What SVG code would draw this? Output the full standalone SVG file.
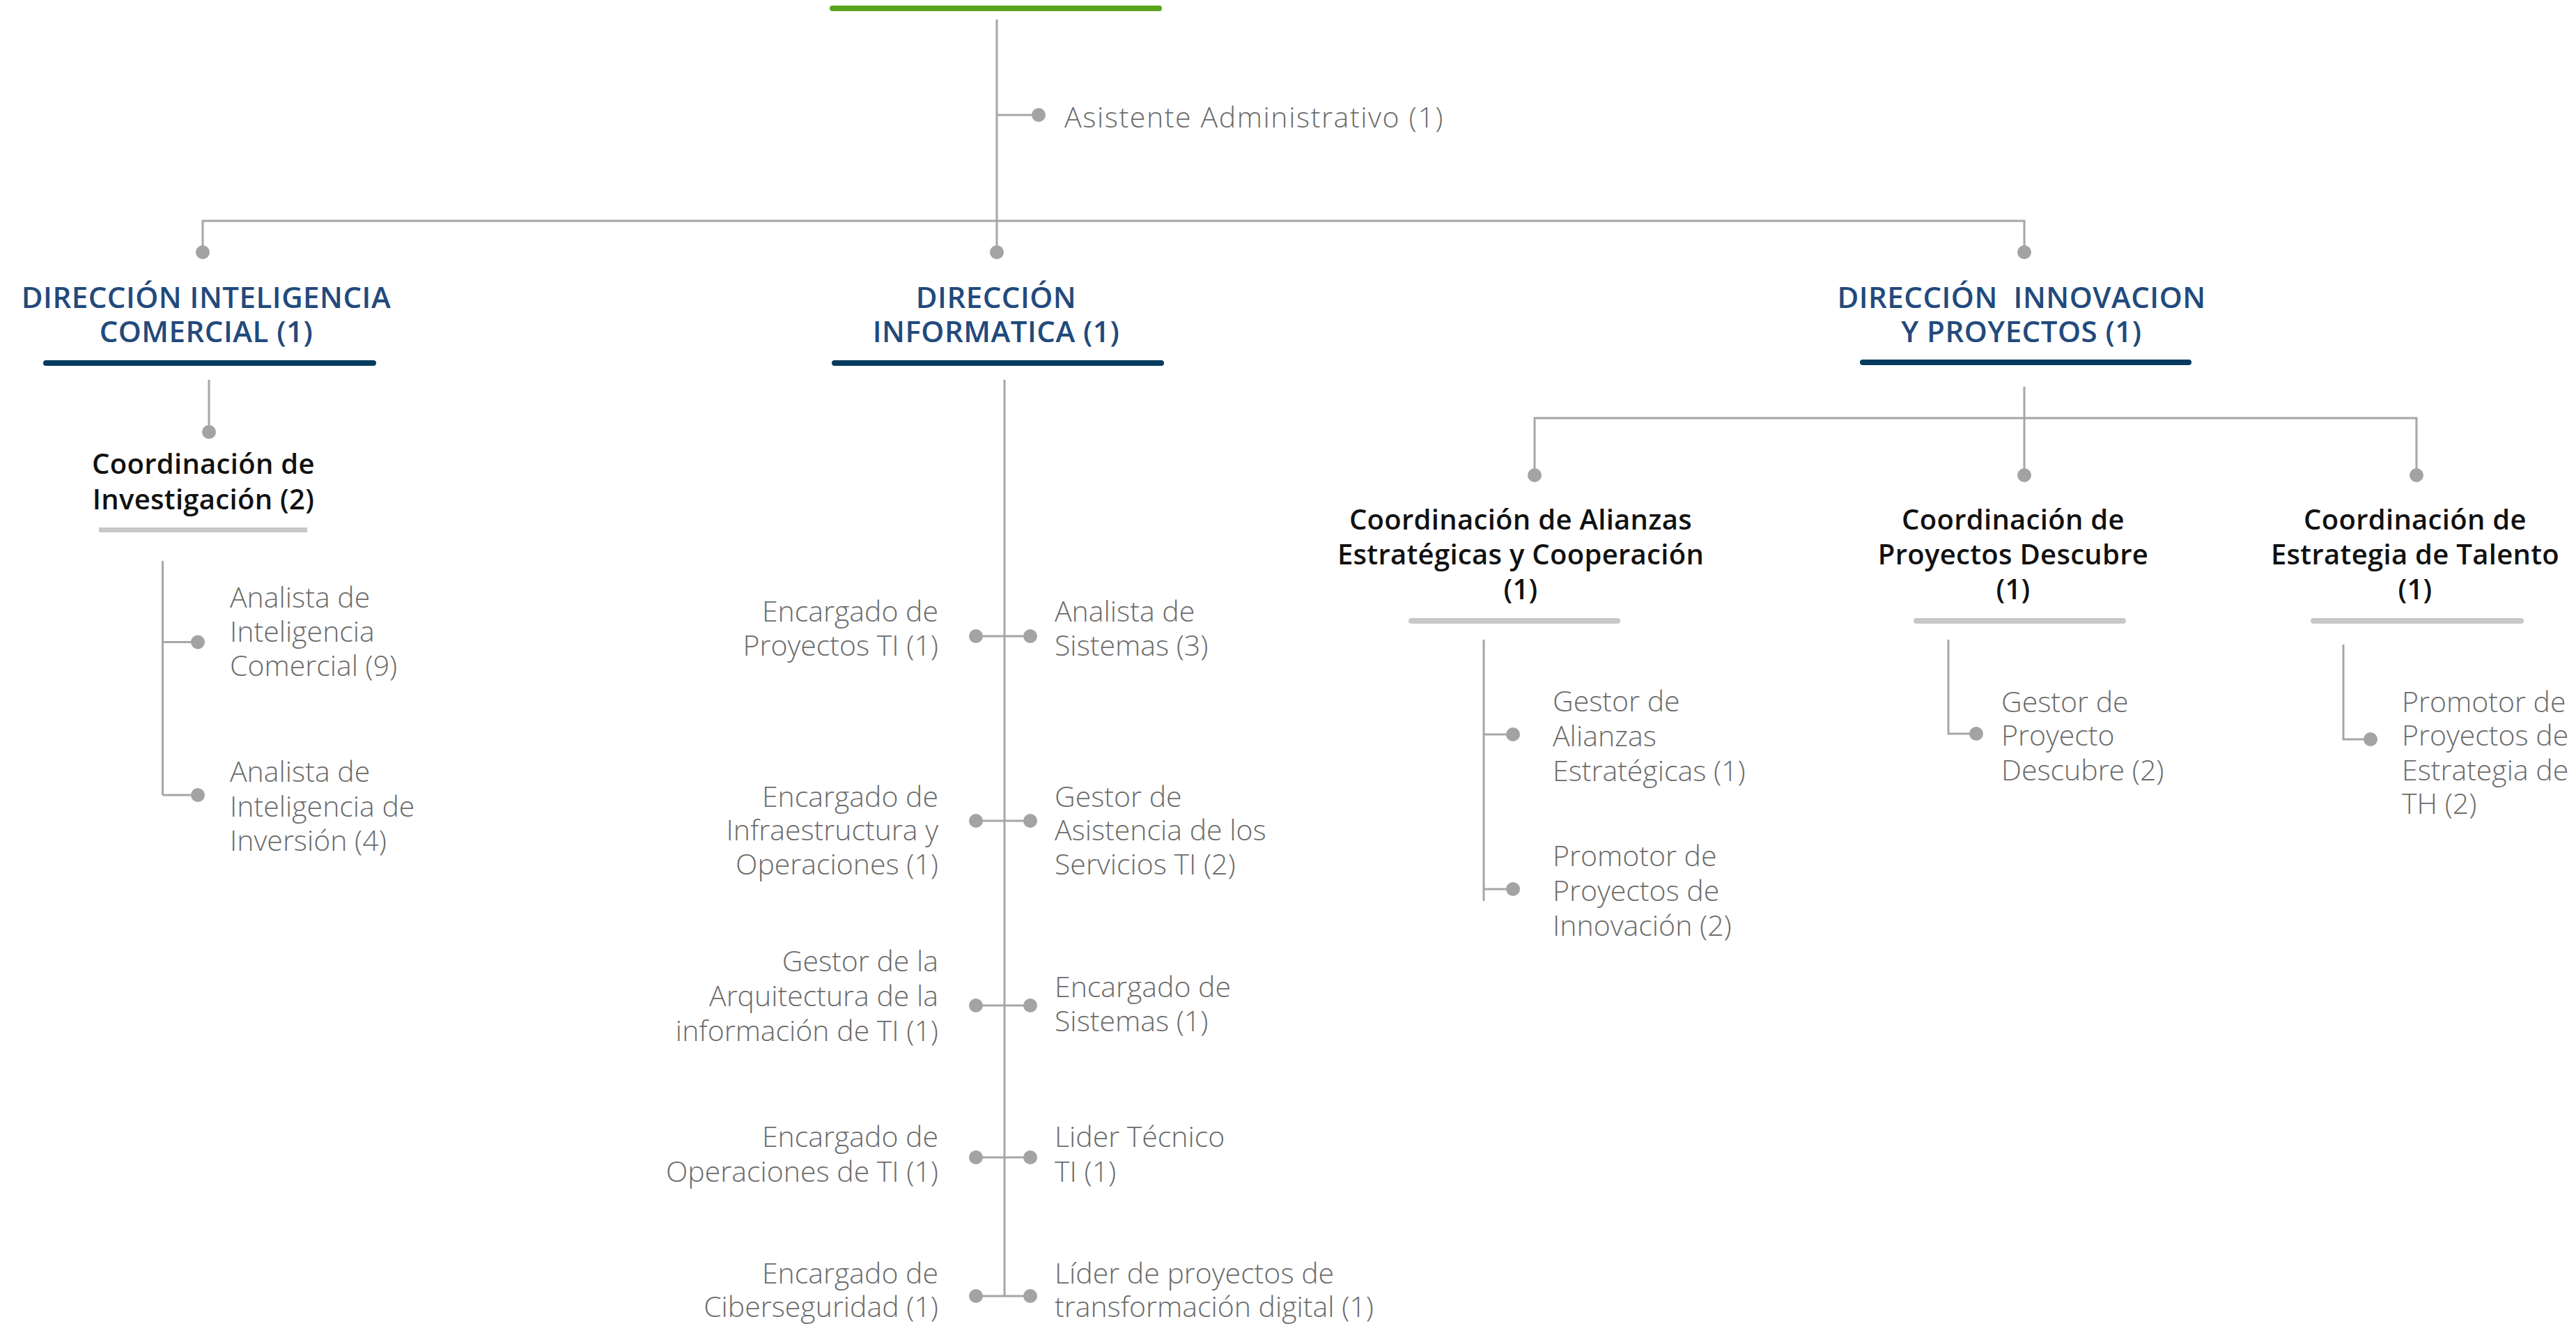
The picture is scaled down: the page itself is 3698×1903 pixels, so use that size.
<svg xmlns="http://www.w3.org/2000/svg" width="3698" height="1903" viewBox="0 0 3698 1903">
<style>
.ln{stroke:#a6a6a6;stroke-width:3;fill:none}
.dot{fill:#a3a3a3}
.dir{font-family:"Open Sans","Liberation Sans",sans-serif;font-weight:600;font-size:42px;letter-spacing:0.5px;fill:#224a7c;text-anchor:middle}
.crd{font-family:"Open Sans","Liberation Sans",sans-serif;font-weight:600;font-size:40px;letter-spacing:0.3px;fill:#111111;text-anchor:middle}
.pos{font-family:"Open Sans","Liberation Sans",sans-serif;font-weight:300;font-size:41px;fill:#6b6b6b}
.r{text-anchor:end}
.nav{fill:#073b5e}
.lg{fill:#c8c8c8}
</style>
<rect width="3698" height="1903" fill="#ffffff"/>
<g id="connectors">
<path class="ln" d="M1431 28V362M1431 165H1491M291 362V317H2906V362"/>
<path class="ln" d="M300 545V620M233.5 805V1141M233.5 921.5H284M233.5 1141H284"/>
<path class="ln" d="M1442 545V1860M1401 913H1479M1401 1178H1479M1401 1443H1479M1401 1661H1479M1401 1860H1479"/>
<path class="ln" d="M2906 555V682M2203 682V600H3469V682"/>
<path class="ln" d="M2130 918V1293M2130 1054H2172M2130 1276H2172"/>
<path class="ln" d="M2797 918V1053H2837M3364 925V1061H3403"/>
<circle class="dot" cx="291" cy="362" r="10"/>
<circle class="dot" cx="1431" cy="362" r="10"/>
<circle class="dot" cx="2906" cy="362" r="10"/>
<circle class="dot" cx="1491" cy="165" r="10"/>
<circle class="dot" cx="300" cy="620" r="10"/>
<circle class="dot" cx="284" cy="921.5" r="10"/>
<circle class="dot" cx="284" cy="1141" r="10"/>
<circle class="dot" cx="1401" cy="913" r="10"/><circle class="dot" cx="1479" cy="913" r="10"/>
<circle class="dot" cx="1401" cy="1178" r="10"/><circle class="dot" cx="1479" cy="1178" r="10"/>
<circle class="dot" cx="1401" cy="1443" r="10"/><circle class="dot" cx="1479" cy="1443" r="10"/>
<circle class="dot" cx="1401" cy="1661" r="10"/><circle class="dot" cx="1479" cy="1661" r="10"/>
<circle class="dot" cx="1401" cy="1860" r="10"/><circle class="dot" cx="1479" cy="1860" r="10"/>
<circle class="dot" cx="2203" cy="682" r="10"/>
<circle class="dot" cx="2906" cy="682" r="10"/>
<circle class="dot" cx="3469" cy="682" r="10"/>
<circle class="dot" cx="2172" cy="1054" r="10"/>
<circle class="dot" cx="2172" cy="1276" r="10"/>
<circle class="dot" cx="2837" cy="1053" r="10"/>
<circle class="dot" cx="3403" cy="1061" r="10"/>
</g>
<g id="root"><rect x="1191" y="8" width="477" height="8" rx="4" fill="#5aa51e"/></g>
<g id="asistente"><text class="pos" x="1528" y="183" font-size="44" letter-spacing="1.6">Asistente Administrativo (1)</text></g>
<g id="dir-inteligencia">
<text class="dir" x="296" y="442">DIRECCIÓN INTELIGENCIA</text>
<text class="dir" x="296" y="491">COMERCIAL (1)</text>
<rect class="nav" x="62" y="517" width="478" height="8" rx="4"/>
</g>
<g id="dir-informatica">
<text class="dir" x="1430" y="442">DIRECCIÓN</text>
<text class="dir" x="1430" y="491">INFORMATICA (1)</text>
<rect class="nav" x="1194" y="517" width="477" height="8" rx="4"/>
</g>
<g id="dir-innovacion">
<text class="dir" x="2902" y="442" xml:space="preserve">DIRECCIÓN  INNOVACION</text>
<text class="dir" x="2902" y="491">Y PROYECTOS (1)</text>
<rect class="nav" x="2670" y="516" width="476" height="8" rx="4"/>
</g>
<g id="coord-investigacion">
<text class="crd" x="292" y="680">Coordinación de</text>
<text class="crd" x="292" y="731">Investigación (2)</text>
<rect class="lg" x="142" y="757" width="299" height="7"/>
</g>
<g id="analista-ic"><text class="pos" x="330" y="872">Analista de</text><text class="pos" x="330" y="921">Inteligencia</text><text class="pos" x="330" y="970">Comercial (9)</text></g>
<g id="analista-ii"><text class="pos" x="330" y="1122">Analista de</text><text class="pos" x="330" y="1172">Inteligencia de</text><text class="pos" x="330" y="1221">Inversión (4)</text></g>
<g id="enc-proyectos"><text class="pos r" x="1347" y="892">Encargado de</text><text class="pos r" x="1347" y="941">Proyectos TI (1)</text></g>
<g id="analista-sistemas"><text class="pos" x="1514" y="892">Analista de</text><text class="pos" x="1514" y="941">Sistemas (3)</text></g>
<g id="enc-infra"><text class="pos r" x="1347" y="1158">Encargado de</text><text class="pos r" x="1347" y="1206">Infraestructura y</text><text class="pos r" x="1347" y="1255">Operaciones (1)</text></g>
<g id="gestor-asistencia"><text class="pos" x="1514" y="1158">Gestor de</text><text class="pos" x="1514" y="1206">Asistencia de los</text><text class="pos" x="1514" y="1255">Servicios TI (2)</text></g>
<g id="gestor-arquitectura"><text class="pos r" x="1347" y="1394">Gestor de la</text><text class="pos r" x="1347" y="1444">Arquitectura de la</text><text class="pos r" x="1347" y="1494">información de TI (1)</text></g>
<g id="enc-sistemas"><text class="pos" x="1514" y="1431">Encargado de</text><text class="pos" x="1514" y="1480">Sistemas (1)</text></g>
<g id="enc-operaciones"><text class="pos r" x="1347" y="1646">Encargado de</text><text class="pos r" x="1347" y="1696">Operaciones de TI (1)</text></g>
<g id="lider-tecnico"><text class="pos" x="1514" y="1646">Lider Técnico</text><text class="pos" x="1514" y="1696">TI (1)</text></g>
<g id="enc-ciber"><text class="pos r" x="1347" y="1842">Encargado de</text><text class="pos r" x="1347" y="1890">Ciberseguridad (1)</text></g>
<g id="lider-transformacion"><text class="pos" x="1514" y="1842">Líder de proyectos de</text><text class="pos" x="1514" y="1890">transformación digital (1)</text></g>
<g id="coord-alianzas">
<text class="crd" x="2183" y="760">Coordinación de Alianzas</text>
<text class="crd" x="2183" y="810">Estratégicas y Cooperación</text>
<text class="crd" x="2183" y="860">(1)</text>
<rect class="lg" x="2022" y="887" width="304" height="8" rx="4"/>
</g>
<g id="coord-descubre">
<text class="crd" x="2890" y="760">Coordinación de</text>
<text class="crd" x="2890" y="810">Proyectos Descubre</text>
<text class="crd" x="2890" y="860">(1)</text>
<rect class="lg" x="2747" y="887" width="305" height="8" rx="4"/>
</g>
<g id="coord-talento">
<text class="crd" x="3467" y="760">Coordinación de</text>
<text class="crd" x="3467" y="810">Estrategia de Talento</text>
<text class="crd" x="3467" y="860">(1)</text>
<rect class="lg" x="3317" y="887" width="306" height="8" rx="4"/>
</g>
<g id="gestor-alianzas"><text class="pos" x="2229" y="1021">Gestor de</text><text class="pos" x="2229" y="1071">Alianzas</text><text class="pos" x="2229" y="1121">Estratégicas (1)</text></g>
<g id="promotor-innovacion"><text class="pos" x="2229" y="1243">Promotor de</text><text class="pos" x="2229" y="1293">Proyectos de</text><text class="pos" x="2229" y="1343">Innovación (2)</text></g>
<g id="gestor-descubre"><text class="pos" x="2873" y="1022">Gestor de</text><text class="pos" x="2873" y="1070">Proyecto</text><text class="pos" x="2873" y="1120">Descubre (2)</text></g>
<g id="promotor-th"><text class="pos" x="3448" y="1022">Promotor de</text><text class="pos" x="3448" y="1070">Proyectos de</text><text class="pos" x="3448" y="1120">Estrategia de</text><text class="pos" x="3448" y="1168">TH (2)</text></g>
</svg>
